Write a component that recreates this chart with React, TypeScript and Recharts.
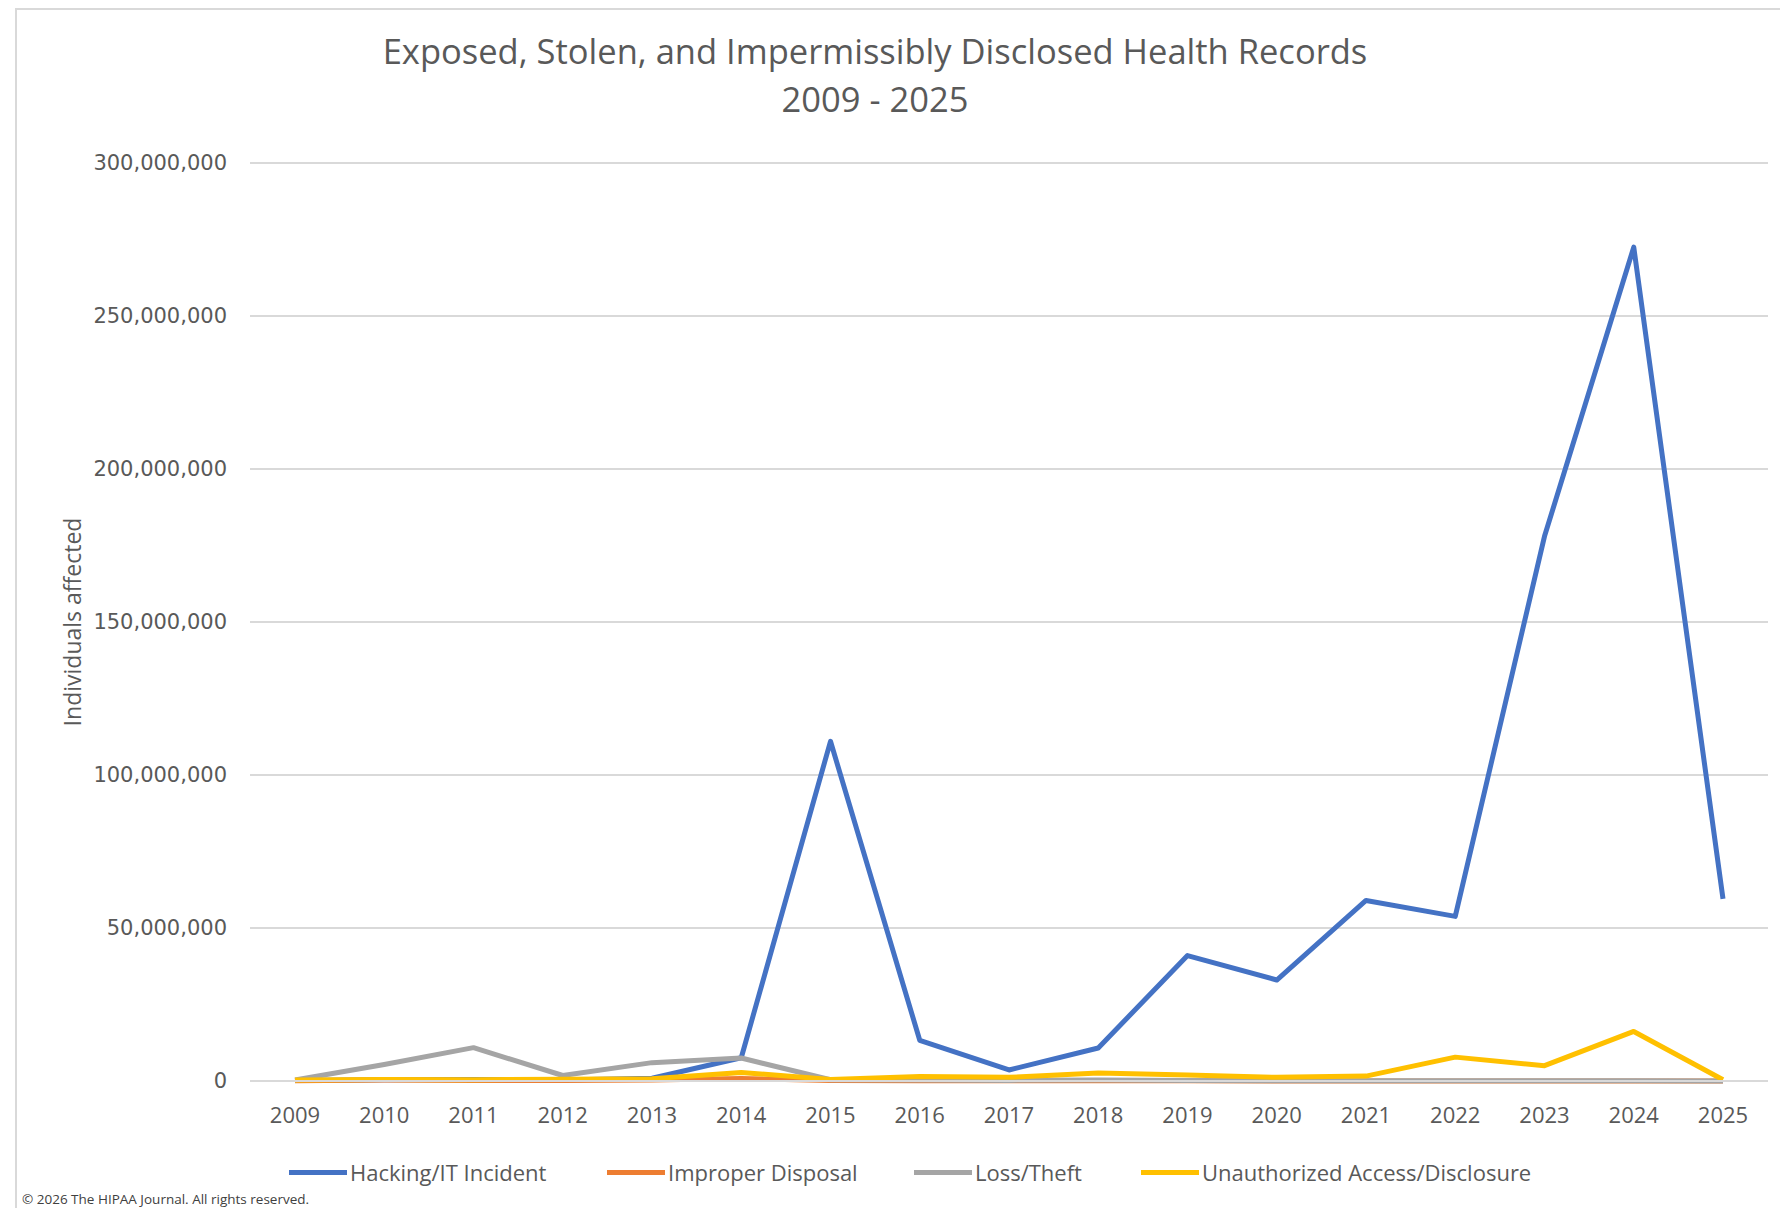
import { LineChart, Line, XAxis, YAxis, CartesianGrid } from 'recharts'

const years = [
  '2009', '2010', '2011', '2012', '2013', '2014', '2015', '2016', '2017',
  '2018', '2019', '2020', '2021', '2022', '2023', '2024', '2025',
]

const hacking = [
  200000, 400000, 500000, 300000, 900000, 7600000, 111000000, 13300000, 3600000,
  10800000, 41000000, 33000000, 59000000, 53800000, 178000000, 272500000, 59500000,
]
const improperDisposal = [
  100000, 300000, 200000, 200000, 300000, 800000, 200000, 100000, 100000,
  50000, 80000, 20000, 30000, 20000, 10000, 10000, 5000,
]
const lossTheft = [
  300000, 5400000, 10900000, 1800000, 6000000, 7500000, 400000, 300000, 200000,
  300000, 200000, 100000, 100000, 100000, 50000, 50000, 20000,
]
const unauthorized = [
  300000, 500000, 400000, 600000, 700000, 2800000, 500000, 1500000, 1200000,
  2600000, 2000000, 1200000, 1600000, 7800000, 5000000, 16200000, 400000,
]

const yTicks = [0, 50000000, 100000000, 150000000, 200000000, 250000000, 300000000]

const series = [
  { key: 'hacking', name: 'Hacking/IT Incident', color: '#4472C4', values: hacking },
  { key: 'improper', name: 'Improper Disposal', color: '#ED7D31', values: improperDisposal },
  { key: 'loss', name: 'Loss/Theft', color: '#A5A5A5', values: lossTheft },
  { key: 'unauth', name: 'Unauthorized Access/Disclosure', color: '#FFC000', values: unauthorized },
]

const data = years.map((year, i) => {
  const row: Record<string, string | number> = { year }
  series.forEach((s) => { row[s.key] = s.values[i] })
  return row
})

// legend swatch x positions
const legendX = [289, 607, 914, 1141]

const textGray = '#595959'

const AxisTitle = ({ viewBox }: any) => {
  const cy = viewBox.y + viewBox.height / 2
  return (
    <text
      x={72}
      y={cy}
      transform={`rotate(-90 72 ${cy})`}
      textAnchor="middle"
      dominantBaseline="central"
      fill={textGray}
      fontSize={23}
      fontFamily="Open Sans"
    >
      Individuals affected
    </text>
  )
}

export default function App() {
  return (
    <div style={{ position: 'absolute', left: 0, top: 0, width: 1780, height: 1208, overflow: 'hidden', background: '#fff', fontFamily: 'Open Sans' }}>
      <div style={{ position: 'absolute', left: 15, top: 8, width: 1790, height: 1220, border: '2px solid #d9d9d9', boxSizing: 'border-box' }} />

      <div style={{ position: 'absolute', left: 0, width: 1750, top: 27, textAlign: 'center', color: textGray, fontSize: 34.5, lineHeight: '48px' }}>
        Exposed, Stolen, and Impermissibly Disclosed Health Records
        <br />
        2009 - 2025
      </div>

      <LineChart
        width={1780}
        height={1208}
        data={data}
        margin={{ top: 163, right: 12, left: 0, bottom: 67 }}
        style={{ position: 'absolute', left: 0, top: 0 }}
      >
        <CartesianGrid vertical={false} stroke="#d9d9d9" strokeWidth={2} />
        <XAxis
          dataKey="year"
          padding={{ left: 45, right: 45 }}
          height={60}
          axisLine={{ stroke: '#d9d9d9', strokeWidth: 2 }}
          tickLine={false}
          tickMargin={20}
          interval={0}
          tick={{ fill: textGray, fontSize: 22, fontFamily: 'Open Sans' }}
        />
        <YAxis
          width={250}
          domain={[0, 300000000]}
          ticks={yTicks}
          axisLine={false}
          tickLine={false}
          tickMargin={17}
          tickFormatter={(v: number) => v.toLocaleString('en-US')}
          tick={{ fill: textGray, fontSize: 21, fontFamily: 'DejaVu Sans' }}
          label={<AxisTitle />}
        />
        {series.map((s) => (
          <Line
            key={s.key}
            dataKey={s.key}
            name={s.name}
            stroke={s.color}
            strokeWidth={5}
            strokeLinejoin="round"
            dot={false}
            activeDot={false}
            isAnimationActive={false}
          />
        ))}
      </LineChart>

      {series.map((s, i) => (
        <div key={s.key} style={{ position: 'absolute', left: legendX[i], top: 1156, height: 32, display: 'flex', alignItems: 'center', color: textGray, fontSize: 22, whiteSpace: 'nowrap' }}>
          <span style={{ display: 'inline-block', width: 58, height: 5, background: s.color, marginRight: 3 }} />
          {s.name}
        </div>
      ))}

      <div style={{ position: 'absolute', left: 22, top: 1190, color: '#404040', fontSize: 13.5, whiteSpace: 'nowrap' }}>
        © 2026 The HIPAA Journal. All rights reserved.
      </div>
    </div>
  )
}
